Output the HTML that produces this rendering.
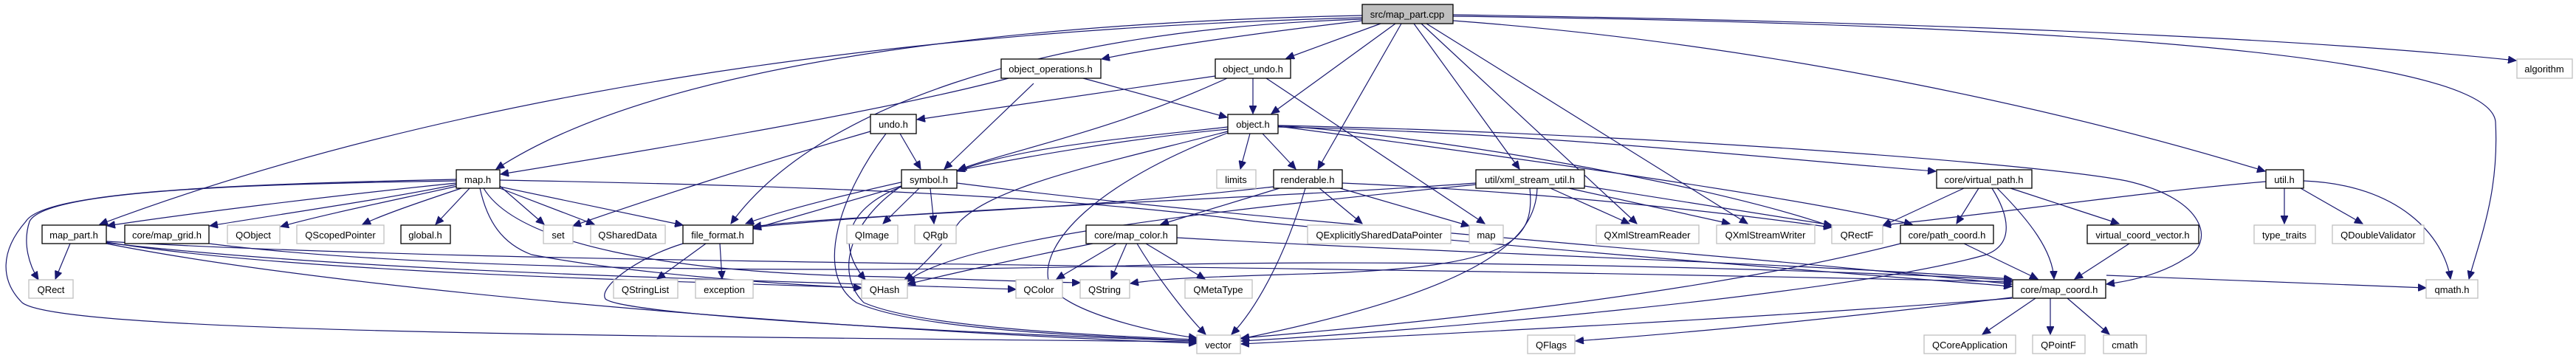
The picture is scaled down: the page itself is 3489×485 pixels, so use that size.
<!DOCTYPE html>
<html><head><meta charset="utf-8"><style>
html,body{margin:0;padding:0;background:#fff;}
svg{display:block}
text{font-family:"Liberation Sans",sans-serif;font-size:13px;text-anchor:middle;fill:#000}
.e{fill:none;stroke:#191970;stroke-width:1.2;marker-end:url(#a)}
.b{fill:#fff;stroke:#000;stroke-width:1.3}
.g{fill:#fff;stroke:#bfbfbf;stroke-width:1.3}
</style></head><body>
<svg width="3489" height="485" viewBox="0 0 3489 485" xmlns="http://www.w3.org/2000/svg">
<defs><marker id="a" markerWidth="12" markerHeight="10" refX="11" refY="5" orient="auto" markerUnits="userSpaceOnUse"><path d="M0,0 L11,5 L0,10 z" fill="#191970" stroke="#191970"/></marker></defs>
<!-- edges -->
<g>
<!-- src -->
<path class="e" d="M1845,21 C1400,30 900,80 672,229"/>
<path class="e" d="M1845,24 C1200,40 600,130 135,304"/>
<path class="e" d="M1845,28 C1700,45 1560,65 1492,80"/>
<path class="e" d="M1870,32 L1742,79"/>
<path class="e" d="M1890,32 L1722,154"/>
<path class="e" d="M1898,32 L1785,229"/>
<path class="e" d="M1845,26 C1400,40 1100,150 990,303"/>
<path class="e" d="M1915,32 L2058,229"/>
<path class="e" d="M1925,32 L2217,303"/>
<path class="e" d="M1932,32 L2367,303"/>
<path class="e" d="M1968,28 C2400,60 2800,150 3068,232"/>
<path class="e" d="M1968,20 C2600,30 3100,50 3408,82"/>
<path class="e" d="M1968,22 C2600,30 3370,60 3380,165 C3385,260 3360,320 3344,378"/>
<!-- object_operations -->
<path class="e" d="M1366,106 C1200,150 900,200 678,236"/>
<path class="e" d="M1467,106 L1662,159"/>
<path class="e" d="M1400,113 L1279,229"/>
<!-- object_undo -->
<path class="e" d="M1697,106 L1697,154"/>
<path class="e" d="M1715,106 L2011,303"/>
<path class="e" d="M1662,106 C1500,180 1380,200 1298,230"/>
<path class="e" d="M1646,103 L1242,162"/>
<!-- object.h -->
<path class="e" d="M1693,181 L1680,229"/>
<path class="e" d="M1710,181 L1755,229"/>
<path class="e" d="M1663,172 C1500,190 1380,200 1296,232"/>
<path class="e" d="M1663,175 C1400,200 1100,270 1010,303"/>
<path class="e" d="M1663,178 C1500,220 1350,250 1300,300 C1270,340 1240,370 1225,379"/>
<path class="e" d="M1663,180 C1480,250 1410,330 1420,380 C1430,420 1560,450 1621,458"/>
<path class="e" d="M1731,172 C2100,180 2450,220 2622,232"/>
<path class="e" d="M1731,170 C2000,190 2350,260 2481,307"/>
<path class="e" d="M1731,171 C2100,220 2450,270 2590,304"/>
<path class="e" d="M1731,170 C2200,180 2750,220 2880,245 C2990,270 3000,330 2960,350 C2930,370 2890,380 2853,385"/>
<!-- undo.h -->
<path class="e" d="M1219,181 L1247,229"/>
<path class="e" d="M1179,178 C1000,230 850,280 776,306"/>
<path class="e" d="M1200,181 C1140,260 1100,370 1160,410 C1250,450 1500,455 1621,462"/>
<!-- map.h -->
<path class="e" d="M618,248 C450,265 250,290 145,306"/>
<path class="e" d="M618,250 C520,270 380,290 284,306"/>
<path class="e" d="M620,252 C540,270 440,290 380,307"/>
<path class="e" d="M625,255 C580,270 520,290 491,304"/>
<path class="e" d="M636,255 L590,304"/>
<path class="e" d="M677,252 L737,304"/>
<path class="e" d="M677,255 L805,304"/>
<path class="e" d="M677,253 L925,305"/>
<path class="e" d="M618,245 C300,250 60,260 40,300 C30,330 40,360 52,379"/>
<path class="e" d="M618,243 C300,250 60,260 35,300 C0,340 0,380 30,410 C80,450 800,455 1621,463"/>
<path class="e" d="M650,255 C660,300 680,330 720,345 C850,370 1050,385 1167,390"/>
<path class="e" d="M655,255 C700,330 900,370 1200,375 C1300,378 1400,382 1463,383"/>
<path class="e" d="M677,244 C1000,250 1400,260 1700,300 C2100,340 2500,370 2725,388"/>
<!-- symbol.h -->
<path class="e" d="M1245,255 L1196,303"/>
<path class="e" d="M1260,255 L1265,303"/>
<path class="e" d="M1221,253 C1150,280 1130,330 1172,379"/>
<path class="e" d="M1221,252 L1020,310"/>
<path class="e" d="M1221,252 C1150,300 1130,370 1170,410 C1250,445 1500,455 1621,460"/>
<path class="e" d="M1296,248 C1700,300 2300,340 2725,385"/>
<!-- file_format -->
<path class="e" d="M956,330 L890,378"/>
<path class="e" d="M975,330 L978,378"/>
<path class="e" d="M925,330 C860,350 810,390 820,405 C850,430 1400,455 1621,462"/>
<!-- map_part -->
<path class="e" d="M95,330 L75,378"/>
<path class="e" d="M144,328 C400,370 900,380 1167,390"/>
<path class="e" d="M144,329 C500,370 1000,378 1376,392"/>
<path class="e" d="M144,330 C500,400 1200,450 1621,465"/>
<path class="e" d="M144,327 C700,360 1600,355 2725,382"/>
<!-- map_grid -->
<path class="e" d="M283,330 C600,370 1200,370 1600,358 C2000,350 2600,370 2725,380"/>
<!-- renderable -->
<path class="e" d="M1768,255 C1740,350 1700,420 1668,453"/>
<path class="e" d="M1787,255 L1845,303"/>
<path class="e" d="M1815,255 L1990,306"/>
<path class="e" d="M1733,255 L1572,304"/>
<path class="e" d="M1725,253 C1400,290 1150,290 1020,307"/>
<path class="e" d="M1818,248 C2100,260 2350,290 2481,308"/>
<!-- xml_stream_util -->
<path class="e" d="M2100,255 L2207,303"/>
<path class="e" d="M2125,255 L2343,303"/>
<path class="e" d="M2146,252 L2481,305"/>
<path class="e" d="M2072,255 C2080,330 2040,360 1800,370 C1650,375 1580,376 1531,384"/>
<path class="e" d="M2082,255 C2080,320 2020,390 1681,459"/>
<path class="e" d="M1999,248 C1700,270 1300,280 1020,308"/>
<path class="e" d="M1999,250 C1700,280 1300,320 1228,382"/>
<!-- map_color -->
<path class="e" d="M1512,330 L1431,378"/>
<path class="e" d="M1526,330 L1505,378"/>
<path class="e" d="M1552,330 L1632,378"/>
<path class="e" d="M1540,330 C1570,380 1610,430 1633,453"/>
<path class="e" d="M1480,330 C1380,350 1270,375 1229,385"/>
<path class="e" d="M1594,322 C1900,340 2400,355 2725,378"/>
<!-- virtual_path -->
<path class="e" d="M2660,255 L2550,306"/>
<path class="e" d="M2680,255 L2650,303"/>
<path class="e" d="M2705,255 C2750,300 2780,340 2782,378"/>
<path class="e" d="M2723,255 L2870,303"/>
<path class="e" d="M2698,255 C2720,290 2730,330 2690,345 C2500,400 1900,450 1681,462"/>
<!-- path_coord -->
<path class="e" d="M2660,330 L2760,378"/>
<path class="e" d="M2574,330 C2300,400 1900,440 1681,458"/>
<!-- virtual_coord_vector -->
<path class="e" d="M2884,330 L2810,378"/>
<!-- util.h -->
<path class="e" d="M3094,255 L3094,303"/>
<path class="e" d="M3116,255 L3200,303"/>
<path class="e" d="M3120,245 C3250,250 3310,320 3319,378"/>
<path class="e" d="M3069,246 C2900,260 2700,290 2550,305"/>
<!-- map_coord -->
<path class="e" d="M2757,404 L2685,453"/>
<path class="e" d="M2777,404 L2777,453"/>
<path class="e" d="M2800,404 L2857,453"/>
<path class="e" d="M2853,373 L3286,390"/>
<path class="e" d="M2725,403 C2500,430 2300,450 2134,462"/>
<path class="e" d="M2725,404 C2400,430 2000,450 1681,466"/>
</g>
<!-- nodes -->
<g>
<rect class="b" x="1845" y="6" width="123" height="26" style="fill:#bfbfbf"/><text x="1906" y="24">src/map_part.cpp</text>
<rect class="b" x="1356" y="80" width="135" height="26"/><text x="1423" y="98">object_operations.h</text>
<rect class="b" x="1646" y="80" width="102" height="26"/><text x="1697" y="98">object_undo.h</text>
<rect class="g" x="3409" y="80" width="75" height="26"/><text x="3446" y="98">algorithm</text>
<rect class="b" x="1179" y="155" width="62" height="26"/><text x="1210" y="173">undo.h</text>
<rect class="b" x="1663" y="155" width="68" height="26"/><text x="1697" y="173">object.h</text>
<rect class="b" x="618" y="230" width="59" height="25"/><text x="647" y="248">map.h</text>
<rect class="b" x="1221" y="230" width="75" height="25"/><text x="1258" y="248">symbol.h</text>
<rect class="g" x="1648" y="230" width="53" height="25"/><text x="1674" y="248">limits</text>
<rect class="b" x="1725" y="230" width="93" height="25"/><text x="1771" y="248">renderable.h</text>
<rect class="b" x="1999" y="230" width="147" height="25"/><text x="2072" y="248">util/xml_stream_util.h</text>
<rect class="b" x="2623" y="230" width="129" height="25"/><text x="2687" y="248">core/virtual_path.h</text>
<rect class="b" x="3069" y="230" width="51" height="25"/><text x="3094" y="248">util.h</text>
<rect class="b" x="57" y="305" width="87" height="25"/><text x="100" y="323">map_part.h</text>
<rect class="b" x="169" y="305" width="114" height="25"/><text x="226" y="323">core/map_grid.h</text>
<rect class="g" x="308" y="305" width="71" height="25"/><text x="343" y="323">QObject</text>
<rect class="g" x="402" y="305" width="118" height="25"/><text x="461" y="323">QScopedPointer</text>
<rect class="b" x="543" y="305" width="67" height="25"/><text x="576" y="323">global.h</text>
<rect class="g" x="736" y="305" width="40" height="25"/><text x="756" y="323">set</text>
<rect class="g" x="800" y="305" width="101" height="25"/><text x="850" y="323">QSharedData</text>
<rect class="b" x="925" y="305" width="95" height="25"/><text x="972" y="323">file_format.h</text>
<rect class="g" x="1147" y="305" width="69" height="25"/><text x="1181" y="323">QImage</text>
<rect class="g" x="1239" y="305" width="56" height="25"/><text x="1267" y="323">QRgb</text>
<rect class="b" x="1471" y="305" width="123" height="25"/><text x="1532" y="323">core/map_color.h</text>
<rect class="g" x="1771" y="305" width="194" height="25"/><text x="1868" y="323">QExplicitlySharedDataPointer</text>
<rect class="g" x="1990" y="305" width="46" height="25"/><text x="2013" y="323">map</text>
<rect class="g" x="2162" y="305" width="139" height="25"/><text x="2231" y="323">QXmlStreamReader</text>
<rect class="g" x="2325" y="305" width="133" height="25"/><text x="2391" y="323">QXmlStreamWriter</text>
<rect class="g" x="2481" y="305" width="69" height="25"/><text x="2515" y="323">QRectF</text>
<rect class="b" x="2574" y="305" width="126" height="25"/><text x="2637" y="323">core/path_coord.h</text>
<rect class="b" x="2827" y="305" width="151" height="25"/><text x="2902" y="323">virtual_coord_vector.h</text>
<rect class="g" x="3053" y="305" width="83" height="25"/><text x="3094" y="323">type_traits</text>
<rect class="g" x="3159" y="305" width="124" height="25"/><text x="3221" y="323">QDoubleValidator</text>
<rect class="g" x="39" y="379" width="60" height="25"/><text x="69" y="397">QRect</text>
<rect class="g" x="831" y="379" width="87" height="25"/><text x="874" y="397">QStringList</text>
<rect class="g" x="942" y="379" width="78" height="25"/><text x="981" y="397">exception</text>
<rect class="g" x="1167" y="379" width="62" height="25"/><text x="1198" y="397">QHash</text>
<rect class="g" x="1376" y="379" width="63" height="25"/><text x="1407" y="397">QColor</text>
<rect class="g" x="1463" y="379" width="67" height="25"/><text x="1496" y="397">QString</text>
<rect class="g" x="1605" y="379" width="91" height="25"/><text x="1650" y="397">QMetaType</text>
<rect class="b" x="2726" y="379" width="126" height="25"/><text x="2789" y="397">core/map_coord.h</text>
<rect class="g" x="3286" y="379" width="70" height="25"/><text x="3321" y="397">qmath.h</text>
<rect class="g" x="1621" y="454" width="59" height="25"/><text x="1650" y="472">vector</text>
<rect class="g" x="2069" y="454" width="64" height="25"/><text x="2101" y="472">QFlags</text>
<rect class="g" x="2606" y="454" width="124" height="25"/><text x="2668" y="472">QCoreApplication</text>
<rect class="g" x="2753" y="454" width="71" height="25"/><text x="2788" y="472">QPointF</text>
<rect class="g" x="2849" y="454" width="58" height="25"/><text x="2878" y="472">cmath</text>
</g>
</svg>
</body></html>
